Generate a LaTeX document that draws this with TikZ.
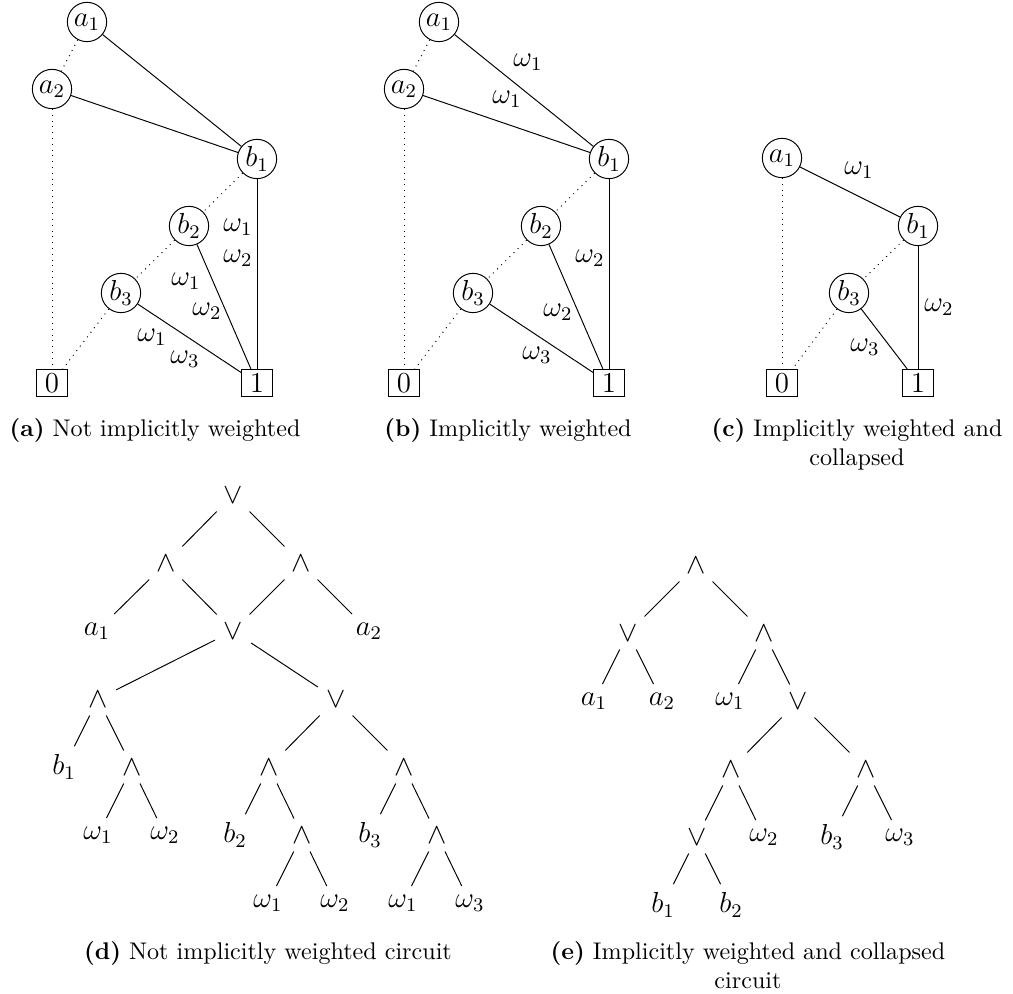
\documentclass[tikz,border=0pt]{standalone}
\begin{document}
\begin{tikzpicture}[x=0.4149pt,y=-0.4149pt,
  vnode/.style={circle,draw,minimum size=16.3pt,inner sep=0pt,font=\large},
  tnode/.style={rectangle,draw,minimum width=12.7pt,minimum height=11.3pt,inner sep=0pt,font=\large},
  hi/.style={draw},
  lo/.style={draw,dotted},
  wlab/.style={inner sep=0pt,font=\large},
  gate/.style={font=\large},
  captext/.style={align=center}]
\useasboundingbox (0,0) rectangle (1013,994);

% ---------------- (a) ----------------
\node[vnode] (aA1) at (87,22) {$a_1$};
\node[vnode] (aA2) at (52,89) {$a_2$};
\node[vnode] (aB1) at (257,159) {$b_1$};
\node[vnode] (aB2) at (189,226) {$b_2$};
\node[vnode] (aB3) at (121,293) {$b_3$};
\node[tnode] (aT0) at (52,383) {$0$};
\node[tnode] (aT1) at (257,383) {$1$};
\draw[lo] (aA1) -- (aA2);
\draw[lo] (aA2) -- (aT0);
\draw[lo] (aB1) -- (aB2);
\draw[lo] (aB2) -- (aB3);
\draw[lo] (aB3) -- (aT0);
\draw[hi] (aA1) -- (aB1);
\draw[hi] (aA2) -- (aB1);
\draw[hi] (aB1) -- (aT1);
\draw[hi] (aB2) -- (aT1);
\draw[hi] (aB3) -- (aT1);
\node[wlab] (aL1) at (238,227) {$\omega_1$};
\node[wlab] (aL2) at (238,258) {$\omega_2$};
\node[wlab] (aL3) at (186,281) {$\omega_1$};
\node[wlab] (aL4) at (207,311) {$\omega_2$};
\node[wlab] (aL5) at (152,337) {$\omega_1$};
\node[wlab] (aL6) at (185,359) {$\omega_3$};
\node[captext] (capA) at (155,430) {\textbf{(a)} Not implicitly weighted};

% ---------------- (b) ----------------
\node[vnode] (bA1) at (439,22) {$a_1$};
\node[vnode] (bA2) at (404,89) {$a_2$};
\node[vnode] (bB1) at (609,159) {$b_1$};
\node[vnode] (bB2) at (541,226) {$b_2$};
\node[vnode] (bB3) at (473,293) {$b_3$};
\node[tnode] (bT0) at (404,383) {$0$};
\node[tnode] (bT1) at (609,383) {$1$};
\draw[lo] (bA1) -- (bA2);
\draw[lo] (bA2) -- (bT0);
\draw[lo] (bB1) -- (bB2);
\draw[lo] (bB2) -- (bB3);
\draw[lo] (bB3) -- (bT0);
\draw[hi] (bA1) -- (bB1);
\draw[hi] (bA2) -- (bB1);
\draw[hi] (bB1) -- (bT1);
\draw[hi] (bB2) -- (bT1);
\draw[hi] (bB3) -- (bT1);
\node[wlab] (bL1) at (528,62) {$\omega_1$};
\node[wlab] (bL2) at (507,99) {$\omega_1$};
\node[wlab] (bL3) at (590,258) {$\omega_2$};
\node[wlab] (bL4) at (558,312) {$\omega_2$};
\node[wlab] (bL5) at (537,355) {$\omega_3$};
\node[captext] (capB) at (508,430) {\textbf{(b)} Implicitly weighted};

% ---------------- (c) ----------------
\node[vnode] (cA1) at (782,158) {$a_1$};
\node[vnode] (cB1) at (918,226) {$b_1$};
\node[vnode] (cB3) at (849,293) {$b_3$};
\node[tnode] (cT0) at (782,383) {$0$};
\node[tnode] (cT1) at (918,383) {$1$};
\draw[lo] (cA1) -- (cT0);
\draw[lo] (cB1) -- (cB3);
\draw[lo] (cB3) -- (cT0);
\draw[hi] (cA1) -- (cB1);
\draw[hi] (cB1) -- (cT1);
\draw[hi] (cB3) -- (cT1);
\node[wlab] (cL1) at (859,170) {$\omega_1$};
\node[wlab] (cL2) at (939,307) {$\omega_2$};
\node[wlab] (cL3) at (865,347) {$\omega_3$};
\node[captext] (capC) at (857,444) {\textbf{(c)} Implicitly weighted and\\collapsed};

% ---------------- (d) ----------------
\node[gate] (dR)  at (233,495) {$\vee$};
\node[gate] (dN1) at (166,563) {$\wedge$};
\node[gate] (dN2) at (301,563) {$\wedge$};
\node[gate] (dA1) at (97,631) {$a_1$};
\node[gate] (dM)  at (233,631) {$\vee$};
\node[gate] (dA2) at (369,631) {$a_2$};
\node[gate] (dN3) at (98,699) {$\wedge$};
\node[gate] (dN4) at (336,699) {$\vee$};
\node[gate] (dB1) at (64,767) {$b_1$};
\node[gate] (dN5) at (132,767) {$\wedge$};
\node[gate] (dN6) at (269,767) {$\wedge$};
\node[gate] (dN7) at (404,767) {$\wedge$};
\node[gate] (dW1) at (98,835) {$\omega_1$};
\node[gate] (dW2) at (165,835) {$\omega_2$};
\node[gate] (dB2) at (235,835) {$b_2$};
\node[gate] (dN8) at (302,835) {$\wedge$};
\node[gate] (dB3) at (370,835) {$b_3$};
\node[gate] (dN9) at (437,835) {$\wedge$};
\node[gate] (dW3) at (268,903) {$\omega_1$};
\node[gate] (dW4) at (335,903) {$\omega_2$};
\node[gate] (dW5) at (403,903) {$\omega_1$};
\node[gate] (dW6) at (470,903) {$\omega_3$};
\draw (dR) -- (dN1);
\draw (dR) -- (dN2);
\draw (dN1) -- (dA1);
\draw (dN1) -- (dM);
\draw (dN2) -- (dM);
\draw (dN2) -- (dA2);
\draw (dM) -- (dN3);
\draw (dM) -- (dN4);
\draw (dN3) -- (dB1);
\draw (dN3) -- (dN5);
\draw (dN5) -- (dW1);
\draw (dN5) -- (dW2);
\draw (dN4) -- (dN6);
\draw (dN4) -- (dN7);
\draw (dN6) -- (dB2);
\draw (dN6) -- (dN8);
\draw (dN8) -- (dW3);
\draw (dN8) -- (dW4);
\draw (dN7) -- (dB3);
\draw (dN7) -- (dN9);
\draw (dN9) -- (dW5);
\draw (dN9) -- (dW6);
\node[captext] (capD) at (268,953) {\textbf{(d)} Not implicitly weighted circuit};

% ---------------- (e) ----------------
\node[gate] (eR)  at (696,565) {$\wedge$};
\node[gate] (eO1) at (628,633) {$\vee$};
\node[gate] (eN1) at (764,633) {$\wedge$};
\node[gate] (eA1) at (594,701) {$a_1$};
\node[gate] (eA2) at (662,701) {$a_2$};
\node[gate] (eW1) at (730,701) {$\omega_1$};
\node[gate] (eO2) at (798,701) {$\vee$};
\node[gate] (eN2) at (731,769) {$\wedge$};
\node[gate] (eN3) at (866,769) {$\wedge$};
\node[gate] (eO3) at (697,837) {$\vee$};
\node[gate] (eW2) at (764,837) {$\omega_2$};
\node[gate] (eB3) at (832,837) {$b_3$};
\node[gate] (eW3) at (900,837) {$\omega_3$};
\node[gate] (eB1) at (663,905) {$b_1$};
\node[gate] (eB2) at (731,905) {$b_2$};
\draw (eR) -- (eO1);
\draw (eR) -- (eN1);
\draw (eO1) -- (eA1);
\draw (eO1) -- (eA2);
\draw (eN1) -- (eW1);
\draw (eN1) -- (eO2);
\draw (eO2) -- (eN2);
\draw (eO2) -- (eN3);
\draw (eN2) -- (eO3);
\draw (eN2) -- (eW2);
\draw (eN3) -- (eB3);
\draw (eN3) -- (eW3);
\draw (eO3) -- (eB1);
\draw (eO3) -- (eB2);
\node[captext] (capE) at (748,965) {\textbf{(e)} Implicitly weighted and collapsed\\circuit};
\end{tikzpicture}
\end{document}
